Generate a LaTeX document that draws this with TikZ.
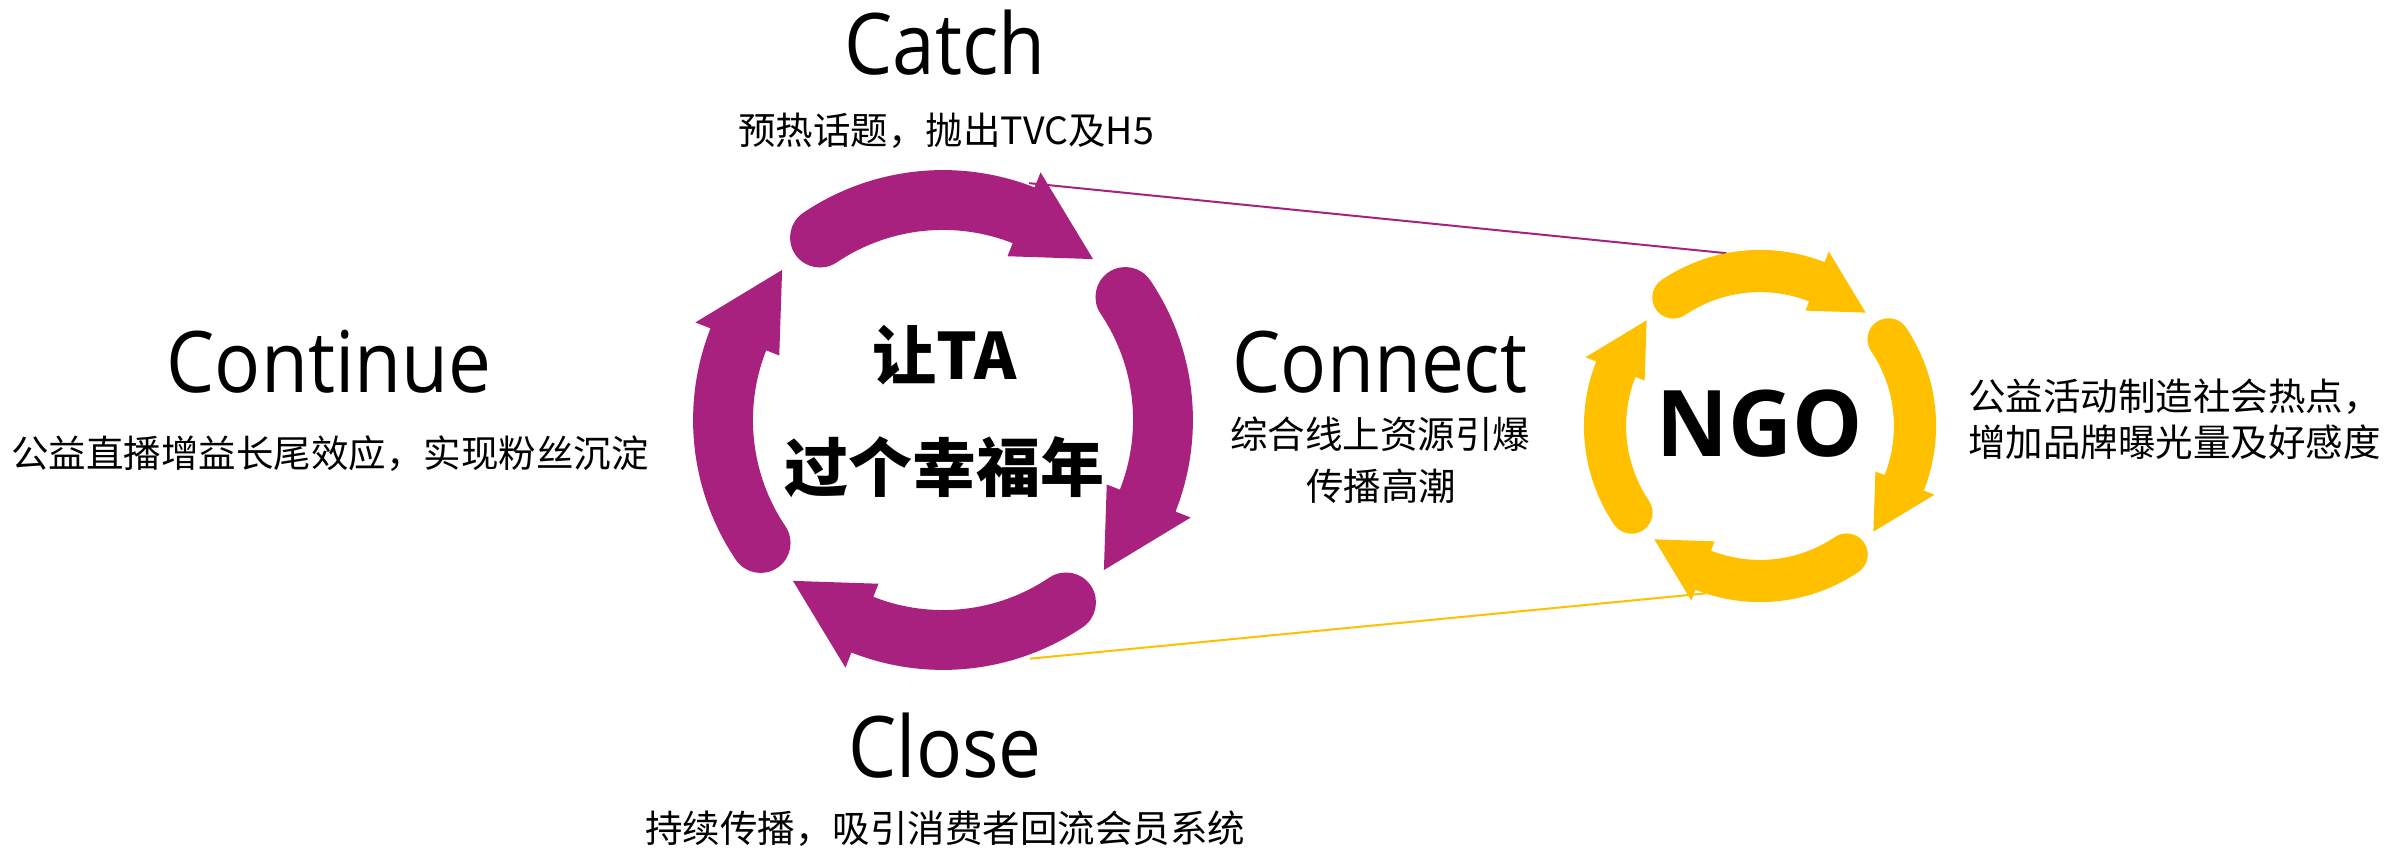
\documentclass[tikz,border=0pt]{standalone}
\usepackage{fontspec}
\newfontfamily\cjk{Noto Sans CJK SC}
\newfontfamily\en[FakeStretch=0.9]{Open Sans}
\newfontfamily\enb[FakeStretch=0.96]{Open Sans}
\definecolor{ppl}{RGB}{168,33,126}
\definecolor{gld}{RGB}{255,192,0}
\newcommand\cycarrow[4]{%
  \pgfmathsetmacro\Ro{#3*1.136}\pgfmathsetmacro\Ri{#3*0.864}%
  \pgfmathsetmacro\Ho{#3*1.21}\pgfmathsetmacro\Hi{#3*0.80}%
  \pgfmathsetmacro\W{#3*0.136}%
  \pgfmathsetmacro\aT{124+#2}\pgfmathsetmacro\aB{68.5+#2}\pgfmathsetmacro\aP{47+#2}%
  \pgfmathsetmacro\aC{\aT+180}%
  \fill[#4, shift={(#1)}] (\aT:\Ro pt) arc[start angle=\aT, end angle=\aB, radius=\Ro pt]
    -- (\aB:\Ho pt) -- (\aP:#3 pt) -- (\aB:\Hi pt) -- (\aB:\Ri pt)
    arc[start angle=\aB, end angle=\aT, radius=\Ri pt]
    arc[start angle=\aC, end angle=\aT, radius=\W pt] -- cycle;
}
\tikzset{
  title/.style={font=\en\fontsize{85}{100}\selectfont, anchor=base, inner sep=0pt},
  sub/.style={font=\cjk\fontsize{37.5}{46}\selectfont, anchor=base, inner sep=0pt},
  center/.style={font=\cjk\bfseries\fontsize{64}{76}\selectfont, anchor=base, inner sep=0pt},
  link/.style={line width=2pt}
}
\begin{document}
\begin{tikzpicture}[x=1pt,y=1pt]
\useasboundingbox (0,0) rectangle (2387,850);
\coordinate (P) at (943,430);
\coordinate (Y) at (1760,424);
% connector lines
\path (P) ++(70:252pt) coordinate (pa);
\path (Y) ++(101:176pt) coordinate (ya);
\path (P) ++(-70:254pt) coordinate (pb);
\path (Y) ++(-108:176pt) coordinate (yb);
\draw[link, ppl] (pa) -- (ya);
\draw[link, gld] (pb) -- (yb);
% purple cycle
\cycarrow{P}{0}{220}{ppl}
\cycarrow{P}{-90}{220}{ppl}
\cycarrow{P}{-180}{220}{ppl}
\cycarrow{P}{-270}{220}{ppl}
% yellow cycle
\cycarrow{Y}{0}{155}{gld}
\cycarrow{Y}{-90}{155}{gld}
\cycarrow{Y}{-180}{155}{gld}
\cycarrow{Y}{-270}{155}{gld}
% texts
\node[title] (catch) at (945,775) {Catch};
\node[sub] (catchsub) at (946,705) {预热话题，抛出TVC及H5};
\node[title] (continue) at (329,457) {Continue};
\node[sub] (contsub) at (330,382) {公益直播增益长尾效应，实现粉丝沉淀};
\node[title] (connect) at (1380,457) {Connect};
\node[sub] (connsub1) at (1380,401) {综合线上资源引爆};
\node[sub] (connsub2) at (1381,349) {传播高潮};
\node[title] (close) at (945,72) {Close};
\node[sub] (closesub) at (945,7) {持续传播，吸引消费者回流会员系统};
\node[sub, anchor=base west] (ngo1) at (1968,439) {公益活动制造社会热点，};
\node[sub, anchor=base west] (ngo2) at (1968,393) {增加品牌曝光量及好感度};
\node[center] (ta1) at (945,470) {让TA};
\node[center] (ta2) at (944,358) {过个幸福年};
\node[font=\enb\bfseries\fontsize{92}{108}\selectfont, anchor=base, inner sep=0pt] (ngo) at (1760,393) {NGO};
\end{tikzpicture}
\end{document}
